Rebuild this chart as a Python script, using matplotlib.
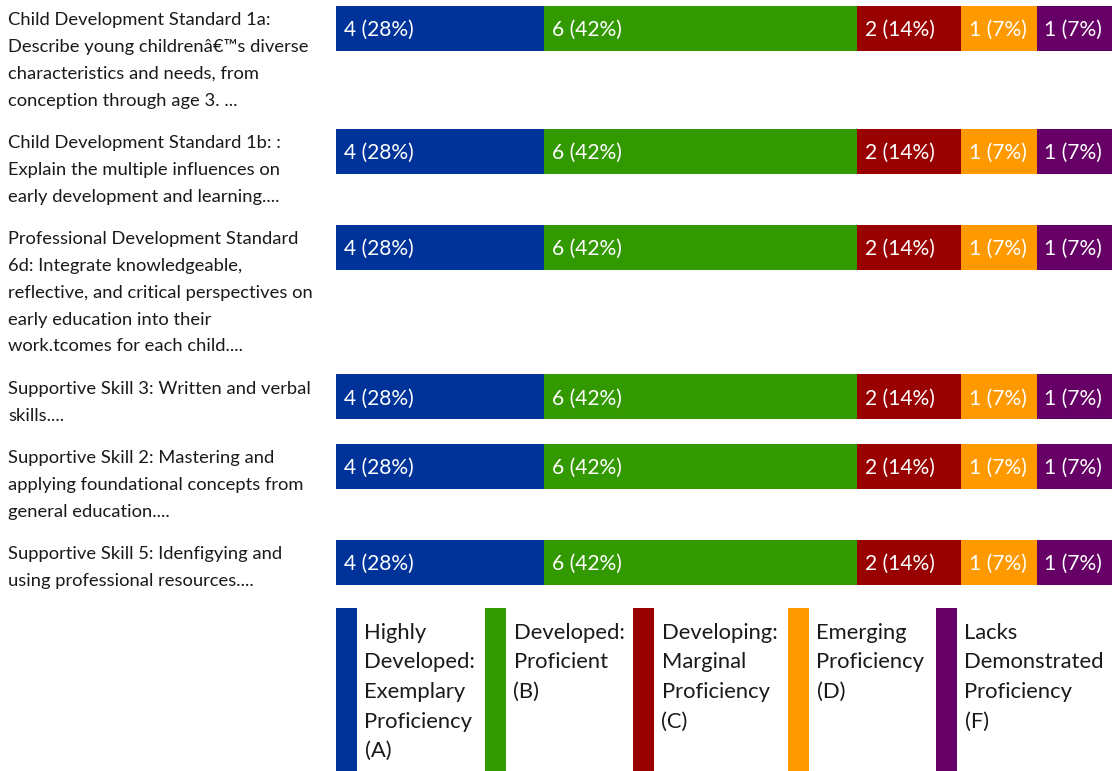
import matplotlib
matplotlib.use("Agg")
import matplotlib.pyplot as plt
from matplotlib.transforms import ScaledTranslation

plt.rcParams['font.family'] = ['Lato', 'DejaVu Sans']

# ---------------- data ----------------
categories = [
    "Child Development Standard 1a:\nDescribe young childrenâ€™s diverse\ncharacteristics and needs, from\nconception through age 3. ...",
    "Child Development Standard 1b: :\nExplain the multiple influences on\nearly development and learning....",
    "Professional Development Standard\n6d: Integrate knowledgeable,\nreflective, and critical perspectives on\nearly education into their\nwork.tcomes for each child....",
    "Supportive Skill 3: Written and verbal\nskills....",
    "Supportive Skill 2: Mastering and\napplying foundational concepts from\ngeneral education....",
    "Supportive Skill 5: Idenfigying and\nusing professional resources....",
]
levels = [
    "Highly\nDeveloped:\nExemplary\nProficiency\n(A)",
    "Developed:\nProficient\n(B)",
    "Developing:\nMarginal\nProficiency\n(C)",
    "Emerging\nProficiency\n(D)",
    "Lacks\nDemonstrated\nProficiency\n(F)",
]
counts = [
    [4, 6, 2, 1, 1],
    [4, 6, 2, 1, 1],
    [4, 6, 2, 1, 1],
    [4, 6, 2, 1, 1],
    [4, 6, 2, 1, 1],
    [4, 6, 2, 1, 1],
]
colors = ["#003399", "#339900", "#990000", "#FF9900", "#660066"]

# ---------------- layout ----------------
W, H = 1118, 771
BAR_X0, BAR_X1 = 336, 1112
BAR_H = 45
LINE_PX = 26.7
ROW_PAD = 16
TOP0 = 6
LABEL_FS = 18.4 * 0.72
BAR_FS = 21 * 0.72
LEG_FS = 22 * 0.72
MIN_FRAC = 75.5 / (BAR_X1 - BAR_X0)
LEG_X = [336, 485, 633, 788, 936]
LEG_Y0, LEG_LINE = 639, 29.5


def display_fracs(vals):
    total = sum(vals)
    small = [v / total < MIN_FRAC for v in vals]
    rest = 1 - MIN_FRAC * sum(small)
    big_sum = sum(v for v, s in zip(vals, small) if not s)
    return [MIN_FRAC if s else v / big_sum * rest for v, s in zip(vals, small)]


fig = plt.figure(figsize=(W / 100, H / 100), dpi=100)
# overlay axes in pixel coordinates (for text & legend)
ax = fig.add_axes([0, 0, 1, 1])
ax.set_xlim(0, W)
ax.set_ylim(H, 0)
ax.axis('off')
# bar axes
bax = fig.add_axes([BAR_X0 / W, 0, (BAR_X1 - BAR_X0) / W, 1])
bax.set_xlim(0, 1)
bax.set_ylim(H, 0)
bax.axis('off')

label_off = ScaledTranslation(8 / 100, 0, fig.dpi_scale_trans)

top = TOP0
for cat, vals in zip(categories, counts):
    lines = cat.split("\n")
    for i, ln in enumerate(lines):
        ax.text(8, top + 19.5 + i * LINE_PX, ln, fontsize=LABEL_FS,
                color="#1a1a1a", va="baseline", ha="left")
    center = top + BAR_H / 2
    fr = display_fracs(vals)
    total = sum(vals)
    left = 0
    for v, f, c in zip(vals, fr, colors):
        bax.barh(center, f, left=left, height=BAR_H, color=c, linewidth=0)
        bax.text(left, center + 7.5, f"{v} ({int(100 * v / total)}%)",
                 transform=bax.transData + label_off,
                 color="white", fontsize=BAR_FS, va="baseline", ha="left")
        left += f
    top += len(lines) * LINE_PX + ROW_PAD

# legend
leg_top = 608
for x, lab, c in zip(LEG_X, levels, colors):
    ax.add_patch(plt.Rectangle((x, leg_top), 21, H - leg_top, color=c, linewidth=0))
    for i, ln in enumerate(lab.split("\n")):
        ax.text(x + 28.5, LEG_Y0 + i * LEG_LINE, ln, fontsize=LEG_FS,
                color="#1a1a1a", va="baseline", ha="left")

fig.savefig("out.png", dpi=100)
